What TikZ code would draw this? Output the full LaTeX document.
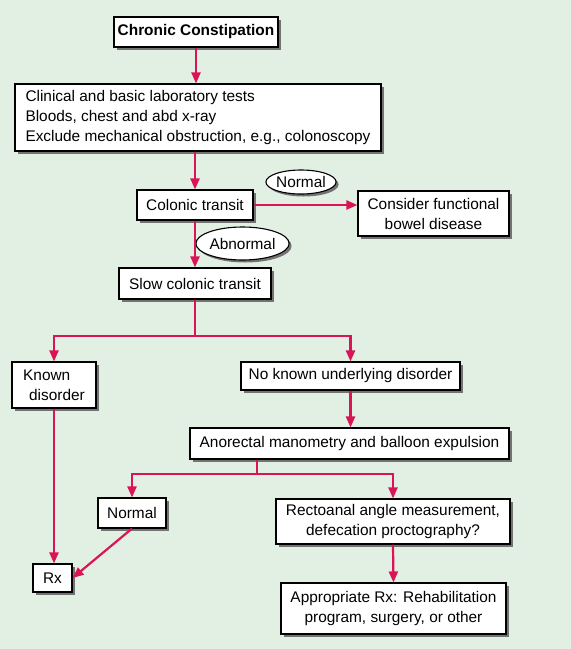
\documentclass[tikz,border=0pt]{standalone}
\usepackage{fontspec}
\setmainfont{Liberation Sans}
\usetikzlibrary{arrows.meta,shadows,shapes.geometric}
\definecolor{bgc}{RGB}{226,240,228}
\definecolor{arc}{RGB}{218,20,86}
\tikzset{
  box/.style={draw=black,line width=1.1pt,fill=white,inner sep=0pt,
    font=\fontsize{15.4}{20}\selectfont,
    drop shadow={shadow xshift=2.5pt,shadow yshift=-2.5pt,fill=black!55,opacity=1}},
  oval/.style={box,ellipse},
  conn/.style={draw=arc,line width=2.2pt},
  arr/.style={conn,-{Triangle[length=11pt,width=9pt]}}
}
\begin{document}
\begin{tikzpicture}[x=1pt,y=-1pt]
\fill[bgc] (0,0) rectangle (571,649);
\useasboundingbox (0,0) rectangle (571,649);
\node[box,minimum width=164pt,minimum height=30pt,font=\fontsize{15.4}{20}\selectfont\bfseries] (cc) at (196,32) {Chronic Constipation};
\node[box,minimum width=366pt,minimum height=67pt,align=left] (clin) at (198,117.5) {Clinical and basic laboratory tests\\Bloods, chest and abd x-ray\\Exclude mechanical obstruction, e.g., colonoscopy};
\node[box,minimum width=116pt,minimum height=30pt] (ct) at (195,205) {Colonic transit};
\node[oval,minimum width=66pt,minimum height=24pt] (n1) at (301,182) {Normal};
\node[box,minimum width=151pt,minimum height=45pt,align=center] (cons) at (433.5,213.5) {Consider functional\\bowel disease};
\node[oval,minimum width=81pt,minimum height=33pt] (abn) at (242.5,243.5) {Abnormal};
\node[box,minimum width=152pt,minimum height=31pt] (slow) at (195,283.5) {Slow colonic transit};
\node[box,minimum width=84pt,minimum height=46pt,align=left] (known) at (54,385) {Known\\\hspace*{6pt}disorder};
\node[box,minimum width=219pt,minimum height=28pt] (nok) at (350.5,376) {No known underlying disorder};
\node[box,minimum width=319pt,minimum height=31pt] (ano) at (349.5,443.5) {Anorectal manometry and balloon expulsion};
\node[box,minimum width=68pt,minimum height=30pt] (n2) at (132,513) {Normal};
\node[box,minimum width=234pt,minimum height=45pt,align=center] (rect) at (393,521.5) {Rectoanal angle measurement,\\defecation proctography?};
\node[box,minimum width=39pt,minimum height=28pt] (rx) at (52.5,578) {Rx};
\node[box,minimum width=225pt,minimum height=51pt,align=center] (appr) at (393.5,608.5) {Appropriate Rx: Rehabilitation\\program, surgery, or other};
\coordinate (j1) at (195,336);
\coordinate (j2) at (257,474);
\draw[arr] (cc.south) -- (cc.south |- clin.north);
\draw[arr] (ct.north |- clin.south) -- (ct.north);
\draw[arr] (ct.east) -- (ct.east -| cons.west);
\draw[arr] (ct.south) -- (slow.north);
\draw[conn] (slow.south) -- (j1);
\draw[arr] (j1) -| (known.north);
\draw[arr] (j1) -| (nok.north);
\draw[arr] (nok.south) -- (nok.south |- ano.north);
\draw[conn] (j2 |- ano.south) -- (j2);
\draw[arr] (j2) -| (n2.north);
\draw[arr] (j2) -| (rect.north);
\draw[arr] (known.south) -- (known.south |- rx.north);
\draw[arr] (n2.south) -- (rx.east);
\draw[arr] (rect.south) -- (appr.north);
\end{tikzpicture}
\end{document}
